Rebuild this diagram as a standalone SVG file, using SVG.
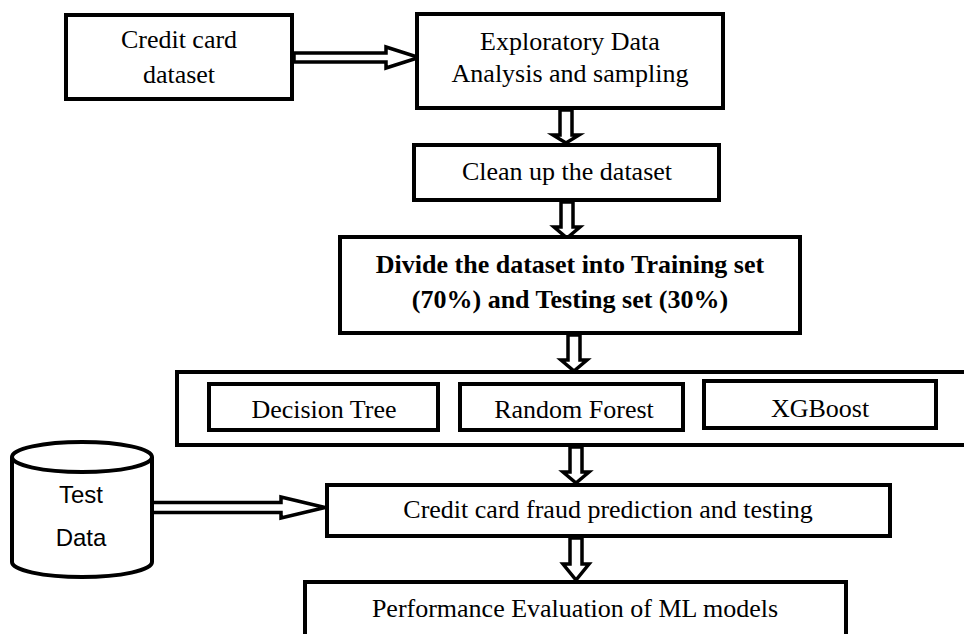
<svg xmlns="http://www.w3.org/2000/svg" width="964" height="634" viewBox="0 0 964 634">
<style>
.box{fill:#fff;stroke:#000;stroke-width:4}
.t{font-family:"Liberation Serif","Times New Roman",serif;font-size:26px;fill:#000;text-anchor:middle}
.b{font-weight:bold}
.s{font-family:"Liberation Sans",Arial,sans-serif;font-size:24px;fill:#000;text-anchor:middle}
.arr{fill:#fff;stroke:#000;stroke-width:3.5;stroke-linejoin:miter}
</style>
<rect width="964" height="634" fill="#fff"/>
<g id="connectors">
<polygon class="arr" points="294,53 386,53 386,47 419,57.5 386,68 386,62 294,62"/>
<polygon class="arr" points="560,110 560,135 553,135 566,143 579,135 572,135 572,110"/>
<polygon class="arr" points="561,202 561,227 554,227 567,238 580,227 573,227 573,202"/>
<polygon class="arr" points="568,335 568,360 561,360 574,371 587,360 580,360 580,335"/>
<polygon class="arr" points="570,447 570,472 563,472 576,483 589,472 582,472 582,447"/>
<polygon class="arr" points="570,538 570,564 563,564 576,580 589,564 582,564 582,538"/>
<polygon class="arr" points="152,502.5 281,502.5 281,497 325,507.5 281,518 281,512.5 152,512.5"/>
</g>
<g id="n1"><rect class="box" x="66" y="15" width="226" height="84"/><text class="t" x="179" y="48">Credit card</text><text class="t" x="179" y="83">dataset</text></g>
<g id="n2"><rect class="box" x="417" y="14" width="306" height="94"/><text class="t" x="570" y="50">Exploratory Data</text><text class="t" x="570" y="82">Analysis and sampling</text></g>
<g id="n3"><rect class="box" x="414" y="145" width="305" height="55"/><text class="t" x="567" y="180">Clean up the dataset</text></g>
<g id="n4"><rect class="box" x="340" y="237" width="460" height="96"/><text class="t b" x="570" y="273">Divide the dataset into Training set</text><text class="t b" x="570" y="308">(70%) and Testing set (30%)</text></g>
<g id="n5"><rect class="box" x="177" y="372" width="800" height="73"/>
<g id="n5a"><rect class="box" x="209" y="384" width="229" height="46"/><text class="t" x="324" y="418">Decision Tree</text></g>
<g id="n5b"><rect class="box" x="460" y="384" width="223" height="46"/><text class="t" x="574" y="418">Random Forest</text></g>
<g id="n5c"><rect class="box" x="704" y="381" width="232" height="47"/><text class="t" x="820" y="417">XGBoost</text></g>
</g>
<g id="n6"><path class="box" d="M12,457 L12,562 A70,15 0 0 0 152,562 L152,457"/><ellipse class="box" cx="82" cy="457" rx="70" ry="15"/><text class="s" x="81" y="503">Test</text><text class="s" x="81" y="546">Data</text></g>
<g id="n7"><rect class="box" x="327" y="485" width="563" height="51"/><text class="t" x="608" y="518">Credit card fraud prediction and testing</text></g>
<g id="n8"><rect class="box" x="305" y="582" width="541" height="70"/><text class="t" x="575" y="617">Performance Evaluation of ML models</text></g>
</svg>
